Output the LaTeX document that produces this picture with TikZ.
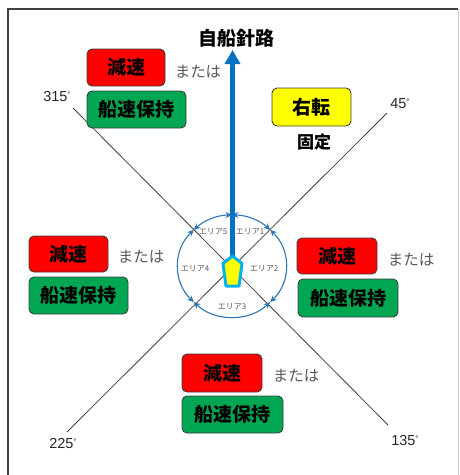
\documentclass[tikz,border=0pt]{standalone}
\usepackage{fontspec}
\setmainfont{Liberation Sans}
\newfontfamily\jp{Noto Sans CJK JP}
\usetikzlibrary{arrows.meta,calc}
\definecolor{boxred}{HTML}{FF0000}
\definecolor{boxgreen}{HTML}{00A651}
\definecolor{boxyellow}{HTML}{FFFF00}
\definecolor{edgegrey}{HTML}{404040}
\definecolor{shipblue}{HTML}{0070C0}
\definecolor{cyanedge}{HTML}{00B0F0}
\definecolor{ringblue}{HTML}{2E75B6}
\definecolor{txtgrey}{HTML}{595959}
\newcommand{\degsym}{\raisebox{4pt}{\fontsize{8}{8}\selectfont °}}
\begin{document}
\begin{tikzpicture}[x=1pt,y=-1pt,
  actbox/.style={draw=edgegrey, line width=0.9pt, rounded corners=5pt, inner sep=0pt,
    font=\jp\bfseries\fontsize{19}{19}\selectfont, text=black},
  redbox/.style={actbox, fill=boxred},
  greenbox/.style={actbox, fill=boxgreen},
  yellowbox/.style={actbox, fill=boxyellow},
  ortext/.style={font=\jp\fontsize{15.5}{15.5}\selectfont, text=txtgrey, inner sep=0pt},
  degtext/.style={font=\fontsize{14.5}{14.5}\selectfont, text=black!85, inner sep=0pt},
  areatext/.style={font=\jp\fontsize{8}{8}\selectfont, text=txtgrey, inner sep=0pt},
  diag/.style={draw=edgegrey, line width=0.8pt},
  ring/.style={draw=ringblue, line width=1.1pt, {Stealth[length=6.5pt,width=6pt]}-{Stealth[length=6.5pt,width=6pt]}},
  frameline/.style={draw=edgegrey, line width=1.5pt}
]
\useasboundingbox (0,0) rectangle (459,475);
% frame
\draw[frameline] (8,475) -- (8,9) -- (458,9);
\draw[draw=gray!40, line width=1pt] (458,9) -- (458,475);

% diagonals
\coordinate (ctr) at (232,268);
\coordinate (d315) at (73,108);
\coordinate (d135) at (388,425);
\coordinate (d45) at (387,113);
\coordinate (d225) at (67,432);
\draw[diag] (d315) -- (d135);
\draw[diag] (d45) -- (d225);

% ring arcs (areas)
\coordinate (rc) at (232,266);
\foreach \a/\b in {-90/-45, -45/45, 45/135, 135/225, 225/270} {
  \draw[ring] ($(rc)+({54*cos(\a)},{51*sin(\a)})$) arc[start angle=\a, end angle=\b, x radius=54, y radius=51];
}

% area labels
\node[areatext] (a5) at (213,232) {エリア5};
\node[areatext] (a1) at (250,232) {エリア1};
\node[areatext] (a4) at (195,269) {エリア4};
\node[areatext] (a2) at (264,269) {エリア2};
\node[areatext] (a3) at (232,307) {エリア3};

% heading arrow
\coordinate (bow) at (232.5,258);
\coordinate (tip) at (232.5,50);
\draw[draw=shipblue, line width=5pt, -{Triangle[width=15pt,length=14pt]}] (bow) -- (tip);
\node[font=\jp\bfseries\fontsize{19}{19}\selectfont, inner sep=0pt] (head) at (236,38) {自船針路};

% own ship
\draw[fill=boxyellow, draw=cyanedge, line width=3pt, line join=round]
  (232.5,256) -- (242,263.5) -- (239,286) -- (226,286) -- (223,263.5) -- cycle;

% degree labels
\node[degtext] (l315) at (57,97) {315\degsym};
\node[degtext] (l45) at (400,104) {45\degsym};
\node[degtext] (l135) at (405,441) {135\degsym};
\node[degtext] (l225) at (63,444) {225\degsym};

% top-left
\node[redbox, minimum width=78pt, minimum height=37pt] (tlr) at (126,67.5) {減速};
\node[greenbox, minimum width=99pt, minimum height=37pt] (tlg) at (136.5,109.5) {船速保持};
\node[ortext] (tlo) at (198,72) {または};

% top-right
\node[yellowbox, minimum width=79pt, minimum height=38pt] (try) at (311.5,107) {右転};
\node[font=\jp\bfseries\fontsize{17}{17}\selectfont, inner sep=0pt] (trf) at (314,142) {固定};

% left
\node[redbox, minimum width=79pt, minimum height=36pt] (lr) at (68.5,254) {減速};
\node[greenbox, minimum width=99pt, minimum height=37pt] (lg) at (78.5,295.5) {船速保持};
\node[ortext] (lo) at (141,257) {または};

% right
\node[redbox, minimum width=80pt, minimum height=36pt] (rr) at (337,256) {減速};
\node[greenbox, minimum width=100pt, minimum height=38pt] (rg) at (348,298) {船速保持};
\node[ortext] (ro) at (411,260) {または};

% bottom
\node[redbox, minimum width=80pt, minimum height=38pt] (br) at (222,373) {減速};
\node[greenbox, minimum width=101pt, minimum height=37pt] (bg) at (232.5,414.5) {船速保持};
\node[ortext] (bo) at (296,376) {または};
\end{tikzpicture}
\end{document}
